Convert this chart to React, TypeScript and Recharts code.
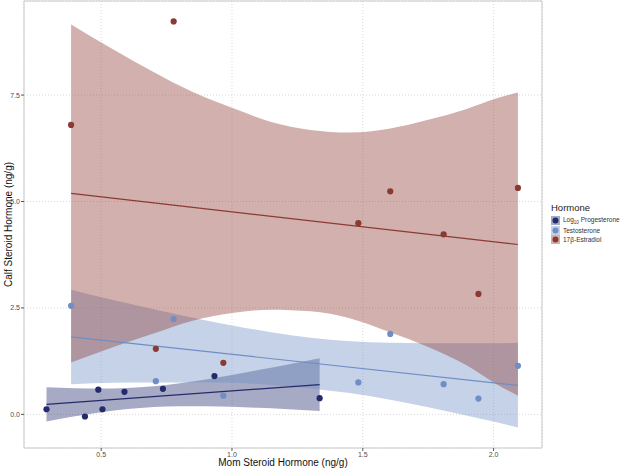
import {
  ComposedChart,
  Scatter,
  Line,
  Area,
  XAxis,
  YAxis,
  CartesianGrid,
  ReferenceArea,
} from "recharts";

// measured points, one pair of arrays per hormone
const progX = [0.291, 0.438, 0.489, 0.505, 0.589, 0.736, 0.933, 1.335];
const progY = [0.12, -0.05, 0.58, 0.12, 0.53, 0.6, 0.9, 0.38];

const testX = [0.385, 0.777, 0.709, 0.967, 1.483, 1.605, 1.809, 1.942, 2.093];
const testY = [2.55, 2.24, 0.78, 0.44, 0.75, 1.89, 0.71, 0.37, 1.14];

const estrX = [0.385, 0.777, 0.709, 0.967, 1.483, 1.605, 1.809, 1.942, 2.093];
const estrY = [6.8, 9.23, 1.54, 1.21, 4.49, 5.24, 4.23, 2.83, 5.32];

// fitted lines (end points)
const progFitX = [0.291, 1.335];
const progFitY = [0.235, 0.7];
const testFitX = [0.385, 2.093];
const testFitY = [1.82, 0.68];
const estrFitX = [0.385, 2.093];
const estrFitY = [5.19, 3.99];

// confidence bands
const progBandX = [0.291, 0.4, 0.5, 0.6, 0.7, 0.8, 0.9, 1.0, 1.1, 1.2, 1.335];
const progBandHi = [0.635, 0.615, 0.61, 0.622, 0.66, 0.73, 0.82, 0.925, 1.04, 1.155, 1.32];
const progBandLo = [-0.165, -0.047, 0.05, 0.124, 0.172, 0.193, 0.192, 0.177, 0.153, 0.125, 0.08];

const bandX = [0.385, 0.55, 0.7, 0.85, 1.0, 1.15, 1.3, 1.45, 1.6, 1.75, 1.9, 2.0, 2.093];
const testBandHi = [2.93, 2.68, 2.47, 2.27, 2.09, 1.93, 1.8, 1.72, 1.68, 1.67, 1.67, 1.67, 1.68];
const testBandLo = [0.71, 0.74, 0.75, 0.75, 0.74, 0.69, 0.61, 0.5, 0.35, 0.17, -0.03, -0.17, -0.31];
const estrBandHi = [9.16, 8.56, 8.04, 7.57, 7.2, 6.87, 6.68, 6.62, 6.71, 6.92, 7.18, 7.4, 7.56];
const estrBandLo = [1.22, 1.59, 1.9, 2.2, 2.38, 2.46, 2.42, 2.26, 1.94, 1.58, 1.14, 0.75, 0.44];

const xTicks = [0.5, 1.0, 1.5, 2.0];
const yTicks = [0, 2.5, 5, 7.5];
const xDomain = [0.205, 2.185];
const yDomain = [-0.79, 9.71];

const PROG = "#232b6c";
const TEST = "#6f8ec5";
const EST = "#8b3a33";
const FONT = "'Liberation Sans', Arial, sans-serif";

const pts = (xs: number[], ys: number[]) => xs.map((x, i) => ({ x, y: ys[i] }));
const band = (xs: number[], lo: number[], hi: number[]) =>
  xs.map((x, i) => ({ x, range: [lo[i], hi[i]] }));

const dot = (color: string) => (props: any) =>
  <circle cx={props.cx} cy={props.cy} r={3.1} fill={color} />;

const legendItems = [
  { key: "prog", color: PROG },
  { key: "test", color: TEST },
  { key: "estr", color: EST },
];

function HormoneLegend() {
  return (
    <div
      style={{
        position: "absolute",
        left: 551,
        top: 202,
        width: 71,
        fontFamily: FONT,
        color: "#222",
      }}
    >
      <div style={{ fontSize: 9.5, marginBottom: 3 }}>Hormone</div>
      {legendItems.map((it) => (
        <div key={it.key} style={{ display: "flex", alignItems: "center", height: 9.4 }}>
          <svg width={9} height={9} style={{ marginRight: 3 }}>
            <rect x={0} y={0} width={9} height={9} fill={it.color} fillOpacity={0.4} />
            <circle cx={4.5} cy={4.5} r={3} fill={it.color} />
          </svg>
          <span style={{ fontSize: 6.5, color: "#333", whiteSpace: "nowrap" }}>
            {it.key === "prog" ? (
              <>
                Log<sub style={{ fontSize: 4.5 }}>10</sub> Progesterone
              </>
            ) : it.key === "test" ? (
              "Testosterone"
            ) : (
              "17β-Estradiol"
            )}
          </span>
        </div>
      ))}
    </div>
  );
}

export default function App() {
  const tick = { fontSize: 7, fill: "#4d4d4d", fontFamily: FONT };
  return (
    <div style={{ position: "absolute", left: 0, top: 0, width: 622, height: 468, background: "#fff" }}>
      <ComposedChart width={622} height={468} margin={{ top: 1, right: 80, bottom: 0, left: 0 }}>
        <CartesianGrid stroke="#d9d9d9" strokeDasharray="1 2" />
        <XAxis
          dataKey="x"
          type="number"
          domain={xDomain}
          ticks={xTicks}
          allowDataOverflow
          tickFormatter={(v: number) => v.toFixed(1)}
          tick={tick}
          tickSize={3}
          tickMargin={1}
          axisLine={false}
          tickLine={{ stroke: "#555" }}
          height={20}
          label={{
            value: "Mom Steroid Hormone (ng/g)",
            position: "center",
            dy: 4,
            style: { fontSize: 10, fill: "#111", fontFamily: FONT },
          }}
        />
        <YAxis
          dataKey="y"
          type="number"
          domain={yDomain}
          ticks={yTicks}
          allowDataOverflow
          tickFormatter={(v: number) => v.toFixed(1)}
          tick={tick}
          tickSize={3}
          tickMargin={1}
          axisLine={false}
          tickLine={{ stroke: "#555" }}
          width={24}
          label={{
            value: "Calf Steroid Hormone (ng/g)",
            angle: -90,
            position: "center",
            dx: -4,
            style: { fontSize: 10, fill: "#111", fontFamily: FONT },
          }}
        />
        <ReferenceArea
          x1={xDomain[0]}
          x2={xDomain[1]}
          y1={yDomain[0]}
          y2={yDomain[1]}
          fill="none"
          stroke="#c8c8c8"
          strokeWidth={1}
        />

        <Area
          data={band(progBandX, progBandLo, progBandHi)}
          dataKey="range"
          type="monotone"
          stroke="none"
          fill={PROG}
          fillOpacity={0.4}
          isAnimationActive={false}
        />
        <Line data={pts(progFitX, progFitY)} dataKey="y" stroke={PROG} strokeWidth={1.2} dot={false} isAnimationActive={false} />
        <Area
          data={band(bandX, testBandLo, testBandHi)}
          dataKey="range"
          type="monotone"
          stroke="none"
          fill={TEST}
          fillOpacity={0.4}
          isAnimationActive={false}
        />
        <Line data={pts(testFitX, testFitY)} dataKey="y" stroke={TEST} strokeWidth={1.2} dot={false} isAnimationActive={false} />
        <Area
          data={band(bandX, estrBandLo, estrBandHi)}
          dataKey="range"
          type="monotone"
          stroke="none"
          fill={EST}
          fillOpacity={0.4}
          isAnimationActive={false}
        />
        <Line data={pts(estrFitX, estrFitY)} dataKey="y" stroke={EST} strokeWidth={1.2} dot={false} isAnimationActive={false} />

        <Scatter data={pts(progX, progY)} shape={dot(PROG)} isAnimationActive={false} />
        <Scatter data={pts(testX, testY)} shape={dot(TEST)} isAnimationActive={false} />
        <Scatter data={pts(estrX, estrY)} shape={dot(EST)} isAnimationActive={false} />
      </ComposedChart>
      <HormoneLegend />
    </div>
  );
}
